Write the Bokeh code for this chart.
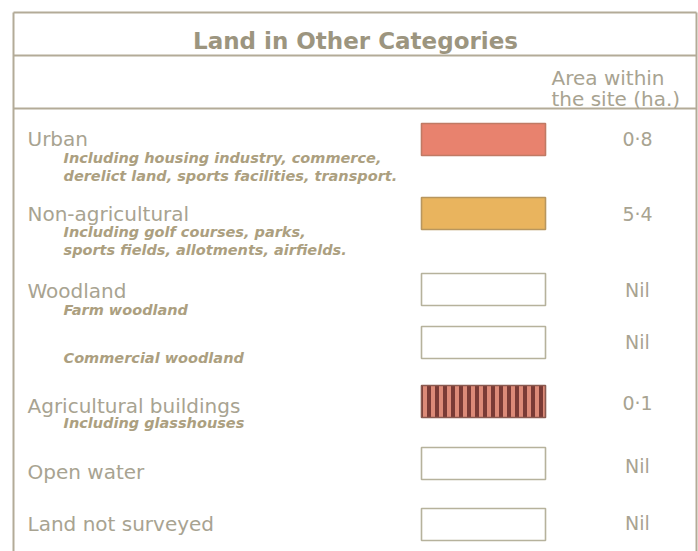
from bokeh.plotting import figure
from bokeh.models import Range1d, ColumnDataSource
from bokeh.core.properties import value
from bokeh.embed import file_html
from bokeh.resources import INLINE

# ---- data ----
title = "Land in Other Categories"
header_lines = ["Area within", "the site (ha.)"]
categories = ["Urban", "Non-agricultural", "Woodland", "", "Agricultural buildings",
              "Open water", "Land not surveyed"]
notes = [
    ["Including housing industry, commerce,", "derelict land, sports facilities, transport."],
    ["Including golf courses, parks,", "sports fields, allotments, airfields."],
    ["Farm woodland"],
    ["Commercial woodland"],
    ["Including glasshouses"],
    [],
    [],
]
area_ha = ["0·8", "5·4", "Nil", "Nil", "0·1", "Nil", "Nil"]
swatch_fill = ["#e8826e", "#e9b45e", "white", "white", "#dc8a78", "white", "white"]
swatch_line = ["#c07a64", "#b8965e", "#b6b29c", "#b6b29c", "#8a5a50", "#b6b29c", "#b6b29c"]
swatch_hatch = [" ", " ", " ", " ", "|", " ", " "]

# ---- layout (reference pixel frame) ----
row_center = [139, 213, 289, 342, 401, 463, 524]
label_base = [138, 213, 290, None, 405, 471, 523]
note_base = [157, 231, 309, 357, 422, None, None]
value_mid = [138, 213, 289, 341, 402, 465, 522]
NOTE_STEP = 18
LABEL_X, NOTE_X = 27, 63
SW_X0, SW_X1, SW_H = 421, 545, 32
VALUE_X = 637

LINE_C = "#b3ab98"
LABEL_C = "#a8a391"
NOTE_C = "#ac9f80"
TITLE_C = "#9c957f"

p = figure(width=698, height=551, x_range=Range1d(0, 698), y_range=Range1d(551, 0),
           output_backend="svg", toolbar_location=None, min_border=0,
           background_fill_color="white", border_fill_color="white")
p.axis.visible = False
p.grid.visible = False
p.outline_line_color = None

# frame lines
p.segment(x0=[13, 13, 13, 13, 696], y0=[12, 55, 108, 12, 12],
          x1=[696, 696, 696, 13, 696], y1=[12, 55, 108, 551, 551],
          line_color=LINE_C, line_width=2)

# title and header
p.text(x=[355], y=[40], text=[title], text_font=value("DejaVu Sans"),
       text_font_size="23px", text_font_style="bold", text_color=TITLE_C,
       text_align="center", text_baseline="alphabetic")
p.text(x=[551, 551], y=[77, 98], text=header_lines, text_font=value("DejaVu Sans"),
       text_font_size="20px", text_color=LABEL_C, text_align="left",
       text_baseline="alphabetic")

# category labels
lx, ly, lt = [], [], []
for c, yb in zip(categories, label_base):
    if c and yb is not None:
        lx.append(LABEL_X); ly.append(yb); lt.append(c)
p.text(x=lx, y=ly, text=lt, text_font=value("DejaVu Sans"), text_font_size="20px",
       text_color=LABEL_C, text_align="left", text_baseline="alphabetic")

# notes
nx, ny, nt = [], [], []
for ns, yb in zip(notes, note_base):
    for k, t in enumerate(ns):
        nx.append(NOTE_X); ny.append(yb + k * NOTE_STEP); nt.append(t)
p.text(x=nx, y=ny, text=nt, text_font=value("DejaVu Sans"), text_font_size="14.5px",
       text_font_style="bold italic", text_color=NOTE_C, text_align="left",
       text_baseline="alphabetic")

# swatches
src = ColumnDataSource(dict(
    x=[(SW_X0 + SW_X1) / 2] * len(categories), y=row_center,
    w=[SW_X1 - SW_X0] * len(categories), h=[SW_H] * len(categories),
    fill=swatch_fill, line=swatch_line, hatch=swatch_hatch))
p.rect(x="x", y="y", width="w", height="h", source=src, fill_color="fill",
       line_color="line", line_width=1.6, hatch_pattern="hatch",
       hatch_color="#7a3b36", hatch_scale=8, hatch_weight=4)

# values
p.text(x=[VALUE_X] * len(area_ha), y=value_mid, text=area_ha,
       text_font=value("DejaVu Sans"), text_font_size="19px", text_color=LABEL_C,
       text_align="center", text_baseline="middle")

open("out.html", "w").write(file_html(p, INLINE))
